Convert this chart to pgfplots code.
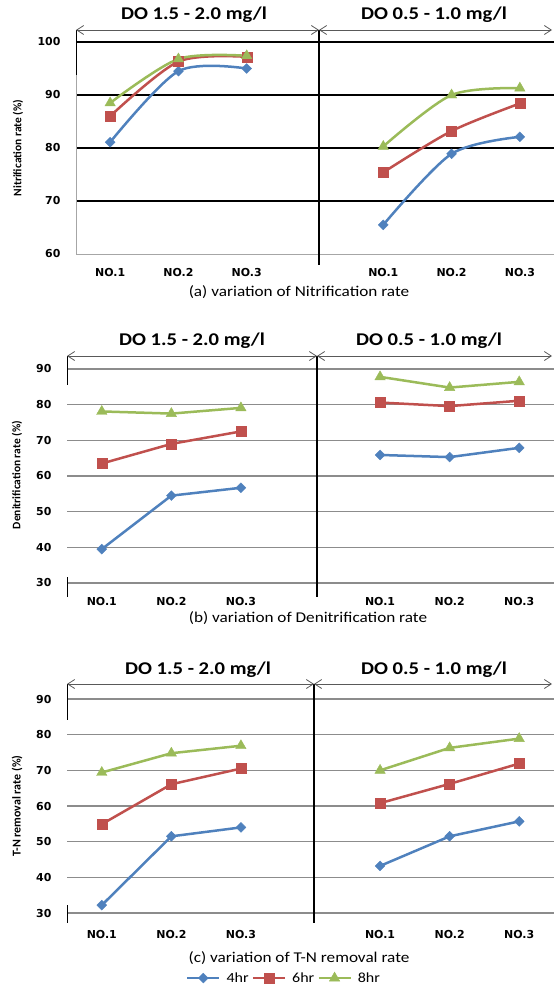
\documentclass[border=0pt]{standalone}
\usepackage{pgfplots}
\pgfplotsset{compat=1.18}
\usepackage{fontspec}
\setmainfont{Carlito}
\newfontfamily\wide{Carlito}[FakeStretch=1.15]
\newfontfamily\dvs{DejaVu Sans}
\usetikzlibrary{arrows.meta}
\definecolor{sblue}{HTML}{4F81BD}
\definecolor{sred}{HTML}{C0504D}
\definecolor{sgreen}{HTML}{9BBB59}
\definecolor{gridg}{HTML}{8C8C8C}
\definecolor{axg}{HTML}{A6A6A6}
\definecolor{arg}{HTML}{595959}
\pgfplotsset{
  base/.style={
    scale only axis, clip=false,
    xmin=0.5, xmax=7.5,
    xtick={1,2,3,5,6,7},
    xticklabels={NO.1,NO.2,NO.3,NO.1,NO.2,NO.3},
    axis line style={draw=none},
    tick style={draw=none},
    tick label style={font=\dvs\bfseries\fontsize{11}{13}\selectfont},
    yticklabel style={xshift=-12bp},
    xticklabel style={yshift=-11bp},
    /pgf/number format/assume math mode=true,
    anchor=south west,
    every axis plot/.append style={line width=2.5bp},
    legend image code/.code={\draw[mark repeat=2,mark phase=2] plot coordinates {(0bp,0bp)(16bp,0bp)(32bp,0bp)};},
  },
  s4/.style={color=sblue, mark=square*, mark size=3.5bp, mark options={rotate=45, line width=0.4bp}},
  s6/.style={color=sred, mark=square*, mark size=5bp, mark options={line width=0.4bp}},
  s8/.style={color=sgreen, mark=triangle*, mark size=6bp, mark options={line width=0.4bp}},
}
\tikzset{dbl/.style={arg, line width=0.8bp, {Straight Barb[length=7bp,width=9bp]}-{Straight Barb[length=7bp,width=9bp]}},
  ttl/.style={font=\wide\bfseries\fontsize{18}{21}\selectfont},
  capt/.style={font=\wide\fontsize{15}{18}\selectfont}}
\begin{document}
\begin{tikzpicture}
\useasboundingbox (0,0) rectangle (554bp,-986bp);
\clip (0,0) rectangle (554bp,-986bp);

% ---------------- (a) ----------------
\begin{axis}[base, at={(76bp,-254bp)}, width=478bp, height=212bp,
  ymin=60, ymax=100, ytick={70,80,90,100}, ymajorgrids,
  grid style={black, line width=1.3bp},
  extra y ticks={60}, extra y tick style={grid=none}]
\addplot[s4, smooth] coordinates {(1,81.1)(2,94.5)(3,95.0)};
\addplot[s6, smooth] coordinates {(1,86.0)(2,96.3)(3,97.2)};
\addplot[s8, smooth] coordinates {(1,88.5)(2,96.8)(3,97.4)};
\addplot[s4, smooth] coordinates {(5,65.5)(6,78.9)(7,82.1)};
\addplot[s6, smooth] coordinates {(5,75.4)(6,83.2)(7,88.4)};
\addplot[s8, smooth] coordinates {(5,80.3)(6,90.0)(7,91.3)};
\end{axis}
\draw[axg, line width=0.8bp] (76bp,-254bp) -- (554bp,-254bp);
\draw[axg, line width=0.8bp] (76bp,-30bp) -- (76bp,-254bp);
\draw[black, line width=0.8bp] (76bp,-30bp) -- (76bp,-75bp);
\draw[black, line width=1.2bp] (319bp,-30bp) -- (319bp,-265bp);
\draw[dbl] (76bp,-30bp) -- (319bp,-30bp);
\draw[dbl] (319bp,-30bp) -- (552bp,-30bp);
\node[ttl] at (194bp,-15bp) {DO 1.5 - 2.0 mg/l};
\node[ttl] at (434bp,-15bp) {DO 0.5 - 1.0 mg/l};
\node[capt] at (299bp,-292bp) {(a) variation of Nitrification rate};
\node[rotate=90, font=\bfseries\fontsize{11.5}{13}\selectfont] at (18bp,-148bp) {Nitrification rate (\%)};

% ---------------- (b) ----------------
\begin{axis}[base, at={(67bp,-583bp)}, width=487bp, height=214bp,
  ymin=30, ymax=90, ytick={30,40,...,90}, ymajorgrids,
  grid style={gridg, line width=1.5bp}]
\addplot[s4] coordinates {(1,39.5)(2,54.5)(3,56.7)};
\addplot[s6] coordinates {(1,63.5)(2,69.0)(3,72.5)};
\addplot[s8] coordinates {(1,78.1)(2,77.5)(3,79.1)};
\addplot[s4] coordinates {(5,65.9)(6,65.3)(7,67.9)};
\addplot[s6] coordinates {(5,80.6)(6,79.6)(7,81.1)};
\addplot[s8] coordinates {(5,87.8)(6,84.8)(7,86.4)};
\end{axis}
\draw[black, line width=0.8bp] (67bp,-356bp) -- (67bp,-385bp);
\draw[black, line width=0.8bp] (67bp,-577bp) -- (67bp,-597bp);
\draw[black, line width=1.2bp] (317bp,-356bp) -- (317bp,-597bp);
\draw[dbl] (67bp,-356bp) -- (317bp,-356bp);
\draw[dbl] (317bp,-356bp) -- (552bp,-356bp);
\node[ttl] at (192bp,-341bp) {DO 1.5 - 2.0 mg/l};
\node[ttl] at (429bp,-341bp) {DO 0.5 - 1.0 mg/l};
\node[capt] at (308bp,-618bp) {(b) variation of Denitrification rate};
\node[rotate=90, font=\bfseries\fontsize{11.5}{13}\selectfont] at (17bp,-475bp) {Denitrification rate (\%)};

% ---------------- (c) ----------------
\begin{axis}[base, at={(67bp,-913bp)}, width=487bp, height=214bp,
  ymin=30, ymax=90, ytick={30,40,...,90}, ymajorgrids,
  grid style={gridg, line width=1.5bp},
  xticklabel style={yshift=-3bp},
  legend columns=3,
  legend style={draw=none, fill=none, at={(0.4456,-0.304)}, anchor=center,
    font=\wide\fontsize{14}{16}\selectfont,
    /tikz/every even column/.append style={column sep=1bp},
    /tikz/every odd column/.append style={column sep=4bp}}]
\addplot[s4] coordinates {(1,32.2)(2,51.5)(3,54.0)};
\addlegendentry{4hr}
\addplot[s6] coordinates {(1,54.9)(2,66.1)(3,70.5)};
\addlegendentry{6hr}
\addplot[s8] coordinates {(1,69.4)(2,74.8)(3,76.9)};
\addlegendentry{8hr}
\addplot[s4, forget plot] coordinates {(5,43.2)(6,51.5)(7,55.7)};
\addplot[s6, forget plot] coordinates {(5,60.8)(6,66.2)(7,71.9)};
\addplot[s8, forget plot] coordinates {(5,70.0)(6,76.3)(7,78.9)};
\end{axis}
\draw[black, line width=0.8bp] (67bp,-684bp) -- (67bp,-720bp);
\draw[black, line width=0.8bp] (67bp,-905bp) -- (67bp,-923bp);
\draw[black, line width=1.2bp] (314bp,-684bp) -- (314bp,-923bp);
\draw[dbl] (67bp,-684bp) -- (314bp,-684bp);
\draw[dbl] (314bp,-684bp) -- (552bp,-684bp);
\node[ttl] at (198bp,-670bp) {DO 1.5 - 2.0 mg/l};
\node[ttl] at (434bp,-670bp) {DO 0.5 - 1.0 mg/l};
\node[capt] at (299bp,-958bp) {(c) variation of T-N removal rate};
\node[rotate=90, font=\bfseries\fontsize{12}{14}\selectfont] at (17bp,-806bp) {T-N removal rate (\%)};
\end{tikzpicture}
\end{document}
